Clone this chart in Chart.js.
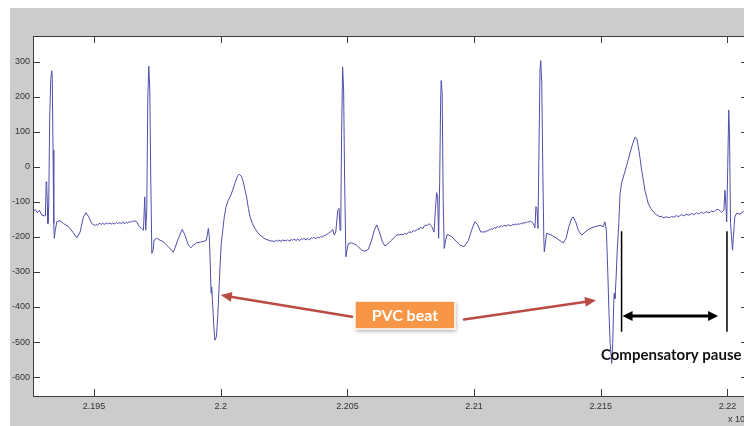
<!DOCTYPE html>
<html>
<head>
<meta charset="utf-8">
<script src="https://cdn.jsdelivr.net/npm/chart.js@4.4.1/dist/chart.umd.min.js"></script>
<style>
  html, body { margin: 0; padding: 0; background: #fff; overflow: hidden; width: 744px; height: 426px; }
  #fig { position: absolute; left: 10px; top: 8px; width: 770px; height: 420px; background: #cccccc; }
  #ecg { position: absolute; left: 0; top: 0; }
</style>
</head>
<body>
<div id="fig"></div>
<canvas id="ecg" width="770" height="426"></canvas>
<script>
// ── Data (sample index, amplitude) ──────────────────────────────────────────
const samples = [
  219259, 219267, 219276, 219284, 219294, 219303, 219308, 219311, 219313, 219316,
  219318, 219321, 219325, 219329, 219333, 219335, 219338, 219341, 219343, 219347,
  219353, 219366, 219379, 219399, 219418, 219432, 219445, 219458, 219468, 219479,
  219491, 219504,
  219509, 219514, 219519, 219524, 219529, 219534, 219539, 219543, 219548, 219553,
  219558, 219563, 219568, 219573, 219578, 219583, 219588, 219593, 219598, 219603,
  219608, 219613, 219618, 219622, 219627, 219632, 219637, 219642, 219647, 219652,
  219658,
  219668, 219679, 219688, 219695, 219700, 219704, 219708, 219712, 219716, 219720,
  219724, 219728, 219733, 219737, 219747,
  219754, 219773, 219793, 219813, 219833, 219848, 219859, 219872, 219882, 219892,
  219905, 219925, 219942, 219947, 219951, 219955, 219959, 219962, 219964, 219967,
  219972, 219977, 219983, 219988, 219993, 219997, 220002, 220008, 220014, 220021,
  220029, 220037, 220047, 220056, 220065, 220073, 220081, 220089, 220096, 220103,
  220109, 220116, 220125, 220135, 220144, 220155, 220175, 220194, 220214,
  220219, 220224, 220229, 220234, 220239, 220244, 220249, 220254, 220259, 220264,
  220268, 220273, 220278, 220283, 220288, 220293, 220298, 220303, 220308, 220313,
  220318, 220323, 220328, 220333, 220338, 220343, 220347, 220352, 220357, 220362,
  220367, 220372, 220377, 220382, 220387, 220392, 220397, 220402, 220407, 220412,
  220425, 220434, 220442, 220448, 220454, 220462, 220467, 220471, 220474, 220477,
  220481, 220485, 220489, 220494, 220498, 220504, 220517, 220537, 220556, 220569,
  220582, 220596, 220606, 220616, 220626, 220638, 220648, 220661, 220675, 220694,
  220721, 220727, 220734, 220740, 220747, 220753, 220760, 220766, 220773, 220778,
  220783, 220788, 220793, 220798, 220803, 220810, 220815, 220823,
  220833, 220842, 220847, 220852, 220856, 220860, 220864, 220868, 220870, 220874,
  220878, 220882, 220888, 220894, 220911, 220931, 220947, 220960, 220977, 220990,
  221003, 221014, 221026, 221043, 221063,
  221068, 221073, 221078, 221082, 221087, 221092, 221097, 221102, 221107, 221112,
  221117, 221122, 221128, 221134, 221141, 221148, 221153, 221158, 221163, 221168,
  221173, 221178, 221183, 221188, 221193, 221198, 221202, 221207, 221212, 221217,
  221223,
  221234, 221240, 221244, 221248, 221252, 221256, 221260, 221263, 221267, 221271,
  221275, 221277, 221281, 221286, 221299, 221312, 221326, 221339, 221352, 221363,
  221374, 221385, 221391, 221401, 221411, 221425, 221438, 221457, 221477, 221497,
  221510, 221516, 221522, 221527, 221532, 221537, 221543, 221547, 221551, 221553,
  221556, 221560, 221565, 221571, 221576, 221582, 221595, 221608, 221622, 221635,
  221642, 221648, 221655, 221661, 221668, 221674, 221681, 221687, 221697, 221707,
  221720, 221733,
  221738, 221745, 221753, 221758, 221765, 221773, 221778, 221785, 221793, 221798,
  221805, 221812, 221818, 221825, 221832, 221838, 221845, 221852, 221858, 221865,
  221872, 221878, 221885, 221891, 221897, 221904, 221911, 221917, 221924, 221931,
  221937, 221944, 221950, 221957, 221964,
  221977, 221986, 221990, 221994, 221997, 222001, 222005, 222008, 222012, 222016,
  222020, 222025, 222029, 222036, 222049, 222062, 222076
];
const amplitude = [
  -128, -122, -131, -124, -138, -140, -140, -43, -47, -114,
  -162, -114, 143, 248, 274, 257, 48, -162, -204, -181,
  -157, -154, -162, -171, -188, -203, -186, -143, -131, -143,
  -162, -168,
  -164, -167, -162, -162, -165, -161, -164, -164, -160, -163,
  -161, -161, -164, -160, -163, -163, -159, -162, -160, -160,
  -163, -158, -161, -162, -158, -161, -157, -159, -155, -157,
  -154,
  -157, -171, -176, -181, -86, -181, -124, 190, 287, 219,
  -47, -247, -238, -209, -204,
  -207, -214, -228, -244, -204, -179, -195, -224, -231, -224,
  -217, -214, -211, -195, -176, -200, -286, -361, -343, -376,
  -447, -495, -485, -428, -352, -286, -219, -181, -143, -114,
  -97, -86, -67, -47, -29, -21, -27, -43, -67, -90,
  -119, -143, -162, -176, -186, -195, -206, -211, -213,
  -210, -213, -209, -211, -213, -208, -212, -209, -212, -208,
  -211, -212, -207, -210, -207, -208, -211, -206, -209, -210,
  -205, -208, -204, -207, -209, -204, -207, -208, -202, -205,
  -201, -204, -205, -200, -203, -202, -198, -201, -196, -196,
  -190, -186, -179, -195, -186, -124, -119, -181, -143, 95,
  285, 219, -47, -257, -238, -219, -217, -224, -238, -241,
  -236, -209, -181, -166, -186, -214, -226, -219, -209, -195,
  -193, -190, -193, -187, -186, -188, -182, -184, -181, -177,
  -179, -173, -174, -176, -169, -166, -168, -162,
  -171, -186, -124, -74, -86, -204, -47, 190, 246, 210,
  -95, -233, -209, -193, -199, -214, -224, -228, -211, -181,
  -157, -166, -186, -186, -179,
  -176, -179, -174, -174, -175, -170, -173, -171, -168, -171,
  -167, -168, -170, -165, -168, -168, -164, -167, -163, -166,
  -162, -165, -161, -164, -159, -162, -158, -160, -156, -158,
  -155,
  -162, -174, -114, -119, -176, 48, 276, 303, 238, 0,
  -200, -243, -221, -190, -193, -198, -204, -211, -217, -204,
  -171, -147, -143, -157, -181, -195, -186, -176, -171, -167,
  -171, -157, -181, -286, -409, -504, -561, -504, -390, -361,
  -376, -323, -238, -162, -76, -47, -14, 19, 57, 84,
  81, 57, 24, -9, -38, -67, -87, -104, -119, -128,
  -137, -143,
  -141, -145, -145, -142, -145, -145, -141, -144, -142, -139,
  -142, -140, -136, -140, -138, -135, -138, -137, -133, -136,
  -135, -131, -135, -133, -129, -133, -131, -128, -131, -130,
  -126, -129, -126, -122, -122,
  -130, -124, -67, -114, -157, 0, 162, 95, -162, -200,
  -238, -181, -143, -133, -135, -128, -131
];

// ── Axes ─────────────────────────────────────────────────────────────────────
const xRange      = [219259, 222081];
const yRange      = [-654, 373];
const xTicks      = [219500, 220000, 220500, 221000, 221500, 222000];
const xTickLabels = ['2.195', '2.2', '2.205', '2.21', '2.215', '2.22'];
const yTicks      = [-600, -500, -400, -300, -200, -100, 0, 100, 200, 300];

// ── Annotations, anchored in data units ──────────────────────────────────────
const pvcLabel    = { text: 'PVC beat', at: [220727, -423] };
const pvcArrows   = [
  { from: [220518, -428], to: [220000, -366] },
  { from: [220960, -436], to: [221481, -381] },
];
const pauseBars   = [221582, 221998];
const pauseSpan   = { from: 221586, to: 221963, y: -426, top: -184, bottom: -471 };
const pauseLabel  = { text: 'Compensatory pause', at: [221778, -537] };

const AXIS_COLOR = '#3c3c3c';
const TEXT_COLOR = '#333333';
const TICK_FONT  = '9px "Liberation Sans", Arial, sans-serif';

function drawArrowHead(ctx, x1, y1, x2, y2, len, half, color) {
  const a = Math.atan2(y2 - y1, x2 - x1);
  ctx.fillStyle = color;
  ctx.beginPath();
  ctx.moveTo(x2, y2);
  ctx.lineTo(x2 - len * Math.cos(a) + half * Math.sin(a), y2 - len * Math.sin(a) - half * Math.cos(a));
  ctx.lineTo(x2 - len * Math.cos(a) - half * Math.sin(a), y2 - len * Math.sin(a) + half * Math.cos(a));
  ctx.closePath();
  ctx.fill();
}

function drawArrow(ctx, x1, y1, x2, y2, color, width, len, half) {
  const a = Math.atan2(y2 - y1, x2 - x1);
  ctx.strokeStyle = color;
  ctx.lineWidth = width;
  ctx.beginPath();
  ctx.moveTo(x1, y1);
  ctx.lineTo(x2 - (len - 1) * Math.cos(a), y2 - (len - 1) * Math.sin(a));
  ctx.stroke();
  drawArrowHead(ctx, x1, y1, x2, y2, len, half, color);
}

const matlabFrame = {
  id: 'matlabFrame',
  beforeDatasetsDraw(chart) {
    const { ctx, chartArea: a } = chart;
    ctx.save();
    ctx.fillStyle = '#ffffff';
    ctx.fillRect(a.left, a.top, a.right - a.left, a.bottom - a.top);
    ctx.restore();
  },
  afterDatasetsDraw(chart) {
    const { ctx, chartArea: a, scales: { x, y } } = chart;
    ctx.save();
    ctx.strokeStyle = AXIS_COLOR;
    ctx.lineWidth = 1;
    ctx.strokeRect(Math.round(a.left) + 0.5, Math.round(a.top) + 0.5,
                   Math.round(a.right - a.left), Math.round(a.bottom - a.top));
    ctx.beginPath();
    xTicks.forEach(v => {
      const px = Math.round(x.getPixelForValue(v)) + 0.5;
      ctx.moveTo(px, a.bottom); ctx.lineTo(px, a.bottom - 7);
      ctx.moveTo(px, a.top);    ctx.lineTo(px, a.top + 7);
    });
    yTicks.forEach(v => {
      const py = Math.round(y.getPixelForValue(v)) + 0.5;
      ctx.moveTo(a.left, py);  ctx.lineTo(a.left + 7, py);
      ctx.moveTo(a.right, py); ctx.lineTo(a.right - 7, py);
    });
    ctx.stroke();

    // exponent note under the x axis
    ctx.fillStyle = TEXT_COLOR;
    ctx.font = TICK_FONT;
    ctx.textBaseline = 'middle';
    ctx.textAlign = 'left';
    ctx.fillText('x 10', x.getPixelForValue(221998) + 1, 420);
    ctx.font = '7px "Liberation Sans", Arial, sans-serif';
    ctx.fillText('5', x.getPixelForValue(221998) + 19, 415);
    ctx.restore();
  },
  afterDraw(chart) {
    const { ctx, scales: { x, y } } = chart;
    const P = (d) => [x.getPixelForValue(d[0]), y.getPixelForValue(d[1])];
    ctx.save();

    // red arrows to the two PVC beats
    ctx.lineCap = 'round';
    pvcArrows.forEach(ar => {
      const [x1, y1] = P(ar.from), [x2, y2] = P(ar.to);
      drawArrow(ctx, x1, y1, x2, y2, '#bb4a44', 2.5, 11, 5);
    });

    // orange label box
    const [bx, by] = P(pvcLabel.at);
    const bw = 100, bh = 28;
    ctx.save();
    ctx.shadowColor = 'rgba(0,0,0,0.35)';
    ctx.shadowBlur = 4;
    ctx.shadowOffsetX = 1;
    ctx.shadowOffsetY = 2;
    ctx.fillStyle = '#f79646';
    ctx.fillRect(bx - bw / 2, by - bh / 2, bw, bh);
    ctx.restore();
    ctx.strokeStyle = '#ffffff';
    ctx.lineWidth = 1.5;
    ctx.strokeRect(bx - bw / 2, by - bh / 2, bw, bh);
    ctx.fillStyle = '#ffffff';
    ctx.font = 'bold 16px Lato, "Open Sans", sans-serif';
    ctx.textAlign = 'center';
    ctx.textBaseline = 'middle';
    ctx.fillText(pvcLabel.text, bx, by + 1);

    // compensatory pause markers
    ctx.strokeStyle = '#000000';
    ctx.lineWidth = 1.5;
    ctx.lineCap = 'butt';
    ctx.beginPath();
    pauseBars.forEach(s => {
      const px = x.getPixelForValue(s);
      ctx.moveTo(px, y.getPixelForValue(pauseSpan.top));
      ctx.lineTo(px, y.getPixelForValue(pauseSpan.bottom));
    });
    ctx.stroke();
    const ay = y.getPixelForValue(pauseSpan.y);
    const ax1 = x.getPixelForValue(pauseSpan.from), ax2 = x.getPixelForValue(pauseSpan.to);
    ctx.lineWidth = 3;
    ctx.beginPath();
    ctx.moveTo(ax1 + 8, ay); ctx.lineTo(ax2 - 8, ay);
    ctx.stroke();
    drawArrowHead(ctx, ax2, ay, ax1, ay, 10, 5, '#000000');
    drawArrowHead(ctx, ax1, ay, ax2, ay, 10, 5, '#000000');

    const [tx, ty] = P(pauseLabel.at);
    ctx.fillStyle = '#111111';
    ctx.font = 'bold 15px Lato, "Open Sans", sans-serif';
    ctx.textAlign = 'center';
    ctx.textBaseline = 'middle';
    ctx.fillText(pauseLabel.text, tx, ty);
    ctx.restore();
  }
};

new Chart(document.getElementById('ecg'), {
  type: 'line',
  data: {
    datasets: [{
      data: samples.map((s, i) => ({ x: s, y: amplitude[i] })),
      borderColor: '#4f4fab',
      borderWidth: 1,
      pointRadius: 0,
      tension: 0,
      fill: false,
    }],
  },
  options: {
    responsive: false,
    animation: false,
    events: [],
    layout: { padding: { left: 0, top: 36, right: 22, bottom: 0 } },
    plugins: { legend: { display: false }, tooltip: { enabled: false } },
    scales: {
      x: {
        type: 'linear', min: xRange[0], max: xRange[1],
        afterBuildTicks: s => { s.ticks = xTicks.map(v => ({ value: v })); },
        afterFit: s => { s.height = 30; },
        grid: { display: false, drawTicks: false },
        border: { display: false },
        ticks: {
          color: TEXT_COLOR, padding: 5, maxRotation: 0, autoSkip: false,
          font: { family: '"Liberation Sans", Arial, sans-serif', size: 9 },
          callback: v => xTickLabels[xTicks.indexOf(v)],
        },
      },
      y: {
        type: 'linear', min: yRange[0], max: yRange[1],
        afterBuildTicks: s => { s.ticks = yTicks.map(v => ({ value: v })); },
        afterFit: s => { s.width = 33; },
        grid: { display: false, drawTicks: false },
        border: { display: false },
        ticks: {
          color: TEXT_COLOR, padding: 3, autoSkip: false,
          font: { family: '"Liberation Sans", Arial, sans-serif', size: 9 },
        },
      },
    },
  },
  plugins: [matlabFrame],
});
</script>
</body>
</html>
